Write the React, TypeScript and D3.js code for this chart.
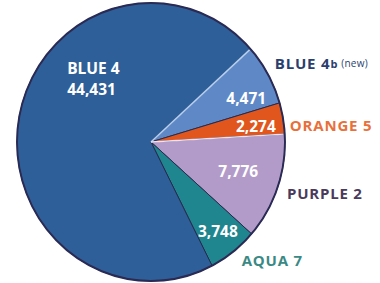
import * as d3 from "d3";
import { useEffect, useRef } from "react";

// slice order follows the picture, clockwise from upper right
const categories = ["BLUE 4b", "ORANGE 5", "PURPLE 2", "AQUA 7", "BLUE 4"];
const values = [4471, 2274, 7776, 3748, 44431];
const valueLabels = ["4,471", "2,274", "7,776", "3,748", "44,431"];
const sliceColors = ["#5f88c6", "#e0561c", "#b39bc9", "#1f868f", "#2f5f98"];
const nameColors = ["#2b3f6e", "#e8703a", "#4a3a5c", "#3a8984", "#ffffff"];

// where each label sits inside its slice: [fraction of sweep, radius]
const innerPos: [number, number][] = [
  [0.71, 108],
  [0.6, 110],
  [0.47, 95],
  [0.5, 113],
  [0.646, 86],
];
const outerPos: [number, number][] = [
  [0.4, 151],
  [0.74, 145],
  [0.52, 150],
  [0.47, 151],
];

const W = 380;
const H = 283;
const cx = 151;
const cy = 142;
const R = 139;
const rx = 134;

function PieChart() {
  const ref = useRef(null);

  useEffect(() => {
    const svg = d3.select(ref.current);
    svg.selectAll("*").remove();

    const pie = d3
      .pie<number>()
      .sort(null)
      .value((d) => d)
      .startAngle((48 * Math.PI) / 180)
      .endAngle((48 * Math.PI) / 180 + 2 * Math.PI);
    const arcs = pie(values);

    const arc = d3.arc<d3.PieArcDatum<number>>().innerRadius(0).outerRadius(R);

    const g = svg
      .append("g")
      .attr("transform", `translate(${cx},${cy}) scale(${rx / R},1)`);

    g.selectAll("path.slice")
      .data(arcs)
      .join("path")
      .attr("class", "slice")
      .attr("d", arc)
      .attr("fill", (_, i) => sliceColors[i])
      .attr("stroke", "#262a4e")
      .attr("stroke-width", 1)
      .attr("stroke-linejoin", "round");

    // light seams seen on a couple of edges
    const seam = (a: number, color: string, w: number) =>
      g
        .append("line")
        .attr("x1", 0)
        .attr("y1", 0)
        .attr("x2", Math.sin(a) * (R - 1))
        .attr("y2", -Math.cos(a) * (R - 1))
        .attr("stroke", color)
        .attr("stroke-width", w);
    seam(arcs[0].startAngle, "#b9d0ee", 1.6);
    seam(arcs[2].startAngle, "#efe3f2", 1.4);

    g.append("circle")
      .attr("r", R)
      .attr("fill", "none")
      .attr("stroke", "#2a2b55")
      .attr("stroke-width", 2);

    const polar = (d: d3.PieArcDatum<number>, t: number, r: number) => {
      const a = d.startAngle + t * (d.endAngle - d.startAngle);
      return [cx + (Math.sin(a) * r * rx) / R, cy - Math.cos(a) * r];
    };

    const font = "'Open Sans', sans-serif";

    // values inside the slices
    arcs.forEach((d, i) => {
      const [x, y] = polar(d, innerPos[i][0], innerPos[i][1]);
      if (i === 4) {
        const t = svg
          .append("text")
          .attr("x", x - 28)
          .attr("y", y)
          .attr("fill", "#fff")
          .attr("font-family", font)
          .attr("font-weight", 700)
          .attr("font-size", 15.5);
        t.append("tspan").attr("x", x - 28).attr("dy", -4).text("BLUE  4");
        t.append("tspan").attr("x", x - 28).attr("dy", 21).text(valueLabels[i]);
        return;
      }
      svg
        .append("text")
        .attr("x", x)
        .attr("y", y)
        .attr("text-anchor", "middle")
        .attr("dominant-baseline", "central")
        .attr("fill", "#fff")
        .attr("font-family", font)
        .attr("font-weight", 700)
        .attr("font-size", 15.5)
        .text(valueLabels[i]);
    });

    // names outside the pie
    outerPos.forEach(([t, r], i) => {
      const [x, y] = polar(arcs[i], t, r);
      const txt = svg
        .append("text")
        .attr("x", x)
        .attr("y", y)
        .attr("dominant-baseline", "central")
        .attr("fill", nameColors[i])
        .attr("font-family", font)
        .attr("font-weight", 700)
        .attr("font-size", 15)
        .attr("letter-spacing", 0.8);
      if (i === 0) {
        txt.append("tspan").text("BLUE 4");
        txt.append("tspan").attr("font-size", 11).attr("dx", 0).text("b");
        txt
          .append("tspan")
          .attr("font-size", 10)
          .attr("font-weight", 400)
          .attr("letter-spacing", 0.3)
          .attr("dx", 3)
          .text("(new)");
      } else {
        txt.text(categories[i]);
      }
    });
  }, []);

  return (
    <svg
      ref={ref}
      width={W}
      height={H}
      style={{ position: "absolute", left: 0, top: 0, background: "#fff" }}
    />
  );
}

export default function App() {
  return <PieChart />;
}
